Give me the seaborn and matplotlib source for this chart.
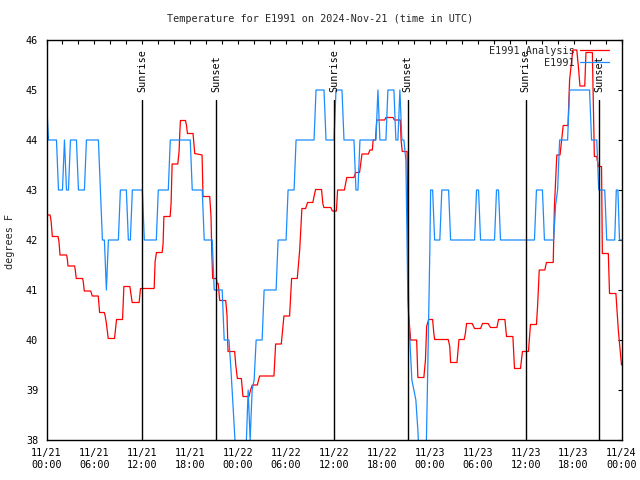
import matplotlib
matplotlib.use("Agg")
import matplotlib.pyplot as plt
import matplotlib.transforms as mtransforms
from matplotlib.ticker import MultipleLocator, FixedLocator
import seaborn as sns
import pandas as pd
import numpy as np

# ---------------- data (hours since 2024-11-21 00:00 UTC, deg F) ----------------
analysis_hours = [0.0, 0.45, 0.58, 0.73, 1.44, 1.56, 1.69, 2.52, 2.6, 2.69, 3.52, 3.6, 3.73, 4.52,
                  4.6, 4.73, 5.52, 5.6, 5.73, 6.48, 6.65, 7.23, 7.35, 7.5, 7.73, 8.52, 8.77, 9.52,
                  9.69, 10.44, 10.73, 11.6, 11.77, 13.48, 13.6, 13.77, 14.48, 14.6, 14.7, 15.48,
                  15.6, 15.73, 16.44, 16.6, 16.7, 16.77, 17.4, 17.52, 17.65, 18.35, 18.56, 19.48,
                  19.6, 20.44, 20.6, 20.7, 20.81, 21.27, 21.35, 21.5, 21.69, 22.44, 22.6, 22.73,
                  23.56, 23.7, 23.9, 24.4, 24.6, 25.35, 25.55, 25.77, 26.4, 26.55, 26.69, 28.48,
                  28.69, 29.4, 29.73, 30.44, 30.69, 31.4, 31.7, 31.98, 32.44, 32.69, 33.35, 33.5,
                  33.69, 34.44, 34.6, 34.73, 35.6, 35.8, 36.3, 36.45, 37.3, 37.6, 38.5, 38.7,
                  39.2, 39.5, 40.3, 40.5, 40.8, 40.9, 41.2, 41.35, 42.35, 42.5, 43.4, 43.55,
                  44.3, 44.4, 44.55, 45.15, 45.35, 45.6, 46.35, 46.5, 47.25, 47.45, 47.6, 47.85,
                  48.35, 48.5, 48.6, 50.3, 50.5, 50.6, 51.4, 51.5, 51.65, 52.3, 52.45, 52.6,
                  53.3, 53.6, 54.35, 54.6, 55.3, 55.6, 56.4, 56.6, 57.4, 57.6, 58.4, 58.6,
                  59.35, 59.6, 60.35, 60.6, 61.35, 61.5, 61.7, 62.4, 62.6, 63.45, 63.6, 63.75,
                  63.9, 64.3, 64.5, 64.7, 65.3, 65.5, 65.9, 66.4, 66.6, 66.8, 67.4, 67.55,
                  68.35, 68.5, 68.6, 68.9, 69.1, 69.5, 69.6, 70.35, 70.5, 71.3, 71.6, 72.0]
analysis_temps = [42.5, 42.5, 42.37, 42.07, 42.07, 41.97, 41.7, 41.7, 41.63, 41.48, 41.48, 41.4, 41.23, 41.23,
                  41.17, 40.98, 40.98, 40.95, 40.88, 40.88, 40.55, 40.55, 40.48, 40.33, 40.03, 40.03, 40.41, 40.41,
                  41.07, 41.07, 40.75, 40.75, 41.03, 41.03, 41.57, 41.75, 41.75, 41.93, 42.47, 42.47,
                  42.73, 43.52, 43.52, 43.77, 44.17, 44.39, 44.39, 44.3, 44.13, 44.13, 43.73, 43.7,
                  42.87, 42.87, 42.47, 41.73, 41.23, 41.23, 41.13, 41.13, 40.79, 40.79, 40.5, 39.77,
                  39.77, 39.5, 39.23, 39.23, 38.87, 38.87, 39.0, 39.1, 39.1, 39.2, 39.28, 39.28,
                  39.92, 39.92, 40.48, 40.48, 41.23, 41.23, 41.79, 42.63, 42.63, 42.75, 42.75, 42.87,
                  43.01, 43.01, 42.73, 42.65, 42.65, 42.58, 42.58, 43.0, 43.0, 43.25, 43.25, 43.35,
                  43.35, 43.72, 43.72, 43.8, 43.8, 44.0, 44.0, 44.4, 44.4, 44.45, 44.45, 44.4,
                  44.4, 44.0, 43.77, 43.77, 40.5, 40.0, 40.0, 39.25, 39.25, 39.6, 40.27, 40.41,
                  40.41, 40.13, 40.01, 40.01, 39.87, 39.55, 39.55, 39.73, 40.01, 40.01, 40.13, 40.33,
                  40.33, 40.23, 40.23, 40.33, 40.33, 40.25, 40.25, 40.41, 40.41, 40.07, 40.07, 39.43,
                  39.43, 39.77, 39.77, 40.31, 40.31, 40.7, 41.4, 41.4, 41.55, 41.55, 42.67, 43.2,
                  43.7, 43.7, 44.0, 44.29, 44.29, 45.2, 45.8, 45.8, 45.47, 45.08, 45.08, 45.75,
                  45.75, 44.5, 43.67, 43.67, 43.47, 43.47, 41.73, 41.73, 40.93, 40.93, 40.2, 39.5]

obs_hours = [0.0, 0.25, 1.25, 1.5, 2.0, 2.25, 2.5, 2.75, 3.0, 3.75, 4.0, 4.75, 5.0, 6.5, 6.75,
             7.0, 7.25, 7.5, 7.75, 9.0, 9.25, 10.0, 10.25, 10.5, 10.75, 12.0, 12.25, 13.75, 14.0,
             15.25, 15.5, 18.0, 18.25, 19.5, 19.75, 20.75, 21.0, 22.0, 22.25, 22.85, 23.1, 23.35,
             23.6, 23.85, 24.9, 25.25, 25.5, 25.75, 26.0, 26.25, 27.0, 27.25, 28.75, 29.0, 30.0,
             30.25, 31.0, 31.25, 33.5, 33.75, 34.75, 35.0, 36.0, 36.25, 37.0, 37.25, 38.5, 38.75,
             39.0, 39.25, 41.25, 41.5, 41.75, 42.5, 42.75, 43.5, 43.75, 44.0, 44.25, 44.5, 44.75,
             45.0, 45.25, 45.5, 45.75, 46.25, 46.5, 46.75, 47.5, 47.75, 48.0, 48.1, 48.35, 48.6,
             49.25, 49.5, 50.35, 50.6, 53.6, 53.85, 54.1, 54.35, 56.1, 56.35, 56.6, 56.85, 61.1,
             61.35, 62.1, 62.35, 63.5, 63.75, 64.0, 64.25, 65.25, 65.5, 68.0, 68.25, 68.9, 69.15,
             69.9, 70.15, 71.15, 71.35, 71.55, 71.75, 72.0]
obs_temps = [44.8, 44, 44, 43, 43, 44, 43, 43, 44, 44, 43, 43, 44, 44, 43,
             42, 42, 41, 42, 42, 43, 43, 42, 42, 43, 43, 42, 42, 43,
             43, 44, 44, 43, 43, 42, 42, 41, 41, 40, 40, 39.4, 38.7,
             38.0, 37.4, 37.4, 39, 38.0, 39, 39.2, 40, 40, 41, 41, 42, 42,
             43, 43, 44, 44, 45, 45, 44, 44, 45, 45, 44, 44, 43,
             43, 44, 44, 45, 44, 44, 45, 45, 44, 44, 45, 44, 44,
             43.6, 40.8, 40.0, 39.2, 38.8, 38.2, 37.4, 37.4, 39.5, 41.8, 43, 43, 42,
             42, 43, 43, 42, 42, 43, 43, 42, 42, 43, 43, 42, 42,
             43, 43, 42, 42, 42.7, 43, 44, 44, 45, 45, 44, 44, 43,
             43, 42, 42, 43, 43, 42, 42]

sunrise_hours = [12.0, 36.0, 60.0]
sunset_hours = [21.25, 45.25, 69.2]

x_tick_hours = [0, 6, 12, 18, 24, 30, 36, 42, 48, 54, 60, 66, 72]
x_tick_labels = ["11/21\n00:00", "11/21\n06:00", "11/21\n12:00", "11/21\n18:00",
                 "11/22\n00:00", "11/22\n06:00", "11/22\n12:00", "11/22\n18:00",
                 "11/23\n00:00", "11/23\n06:00", "11/23\n12:00", "11/23\n18:00",
                 "11/24\n00:00"]
y_ticks = [38, 39, 40, 41, 42, 43, 44, 45, 46]

series_names = ["E1991 Analysis", "E1991"]
series_colors = ["#ff0000", "#1a8cff"]

# ---------------- figure ----------------
sns.set_theme(style="white")
plt.rcParams['font.family'] = ['DejaVu Sans Mono', 'DejaVu Sans']
FS = 7.3

fig = plt.figure(figsize=(6.4, 4.8), dpi=100)
ax = fig.add_axes([46.5 / 640, 40 / 480, 575 / 640, 400 / 480])

df_a = pd.DataFrame({"hours": analysis_hours, "temp": analysis_temps})
df_o = pd.DataFrame({"hours": obs_hours, "temp": obs_temps})
sns.lineplot(data=df_a, x="hours", y="temp", color=series_colors[0], linewidth=0.9,
             estimator=None, sort=False, label=series_names[0], ax=ax, zorder=2)
sns.lineplot(data=df_o, x="hours", y="temp", color=series_colors[1], linewidth=0.9,
             estimator=None, sort=False, label=series_names[1], ax=ax, zorder=2)

trans = mtransforms.blended_transform_factory(ax.transData, ax.transAxes)
for t in sunrise_hours:
    ax.axvline(t, ymin=0, ymax=0.85, color="black", linewidth=1.0, zorder=3)
    ax.text(t, 0.87, "Sunrise", rotation=90, ha="center", va="bottom",
            fontsize=FS, transform=trans, color="black")
for t in sunset_hours:
    ax.axvline(t, ymin=0, ymax=0.85, color="black", linewidth=1.0, zorder=3)
    ax.text(t, 0.87, "Sunset", rotation=90, ha="center", va="bottom",
            fontsize=FS, transform=trans, color="black")

ax.set_xlim(0, 72)
ax.set_ylim(38, 46)
ax.xaxis.set_major_locator(FixedLocator(x_tick_hours))
ax.set_xticklabels(x_tick_labels, fontsize=FS, linespacing=1.25)
ax.xaxis.set_minor_locator(MultipleLocator(2))
ax.set_yticks(y_ticks)
ax.set_yticklabels([str(v) for v in y_ticks], fontsize=FS)
ax.tick_params(axis="both", which="both", direction="in", length=3, width=0.8,
               top=True, right=True, colors="black", labelcolor="black")
ax.tick_params(axis="x", which="major", pad=6)
ax.tick_params(axis="y", which="major", pad=6)
ax.set_xlabel("")
ax.set_ylabel("")
for s in ax.spines.values():
    s.set_visible(True)
    s.set_color("black")
    s.set_linewidth(1.0)

leg = ax.legend(loc="upper right", bbox_to_anchor=(0.978, 0.985), frameon=False,
                markerfirst=False, handlelength=2.8, handletextpad=0.6,
                labelspacing=0.15, borderpad=0, borderaxespad=0, fontsize=FS)

fig.text(0.5, 1 - 19 / 480, "Temperature for E1991 on 2024-Nov-21 (time in UTC)",
         ha="center", va="center", fontsize=FS)
fig.text(10 / 640, 1 - 241 / 480, "degrees F", rotation=90, ha="center", va="center",
         fontsize=FS)

fig.savefig("out.png", dpi=100)
